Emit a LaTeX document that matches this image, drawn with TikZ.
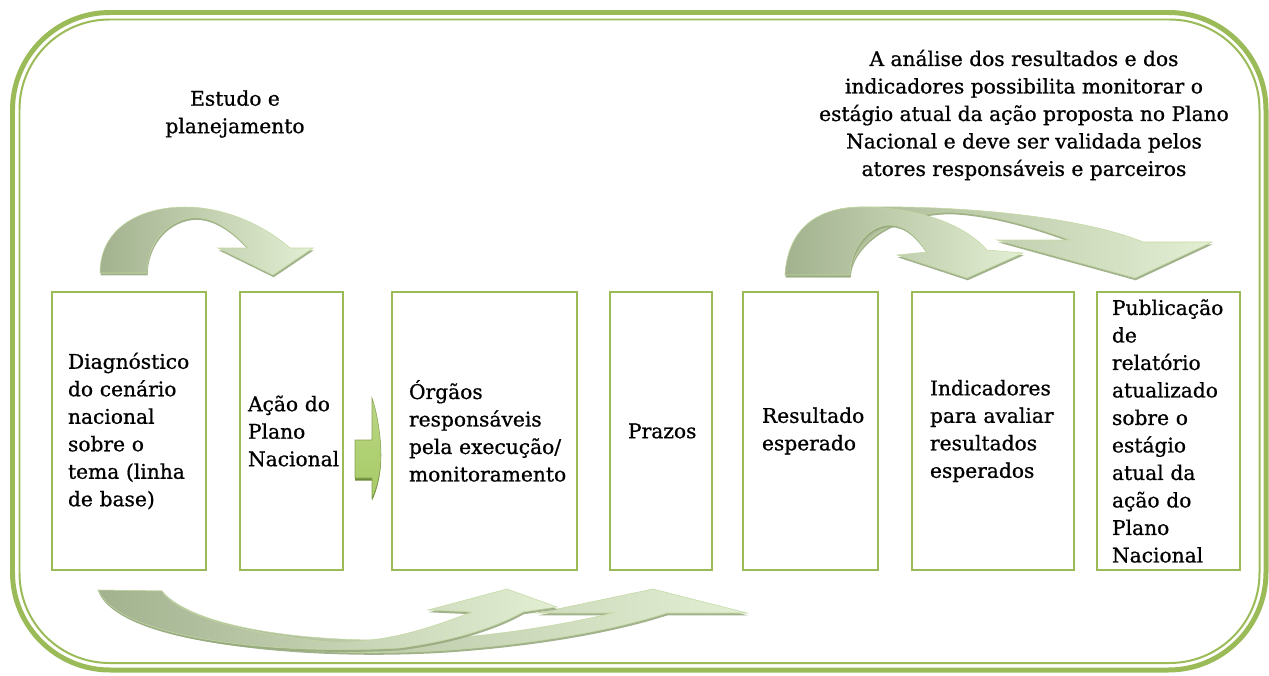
\documentclass[tikz,border=0pt]{standalone}
\usepackage{fontspec}
\setmainfont{DejaVu Serif}[FakeBold=0.8]
\usetikzlibrary{shadows}
\definecolor{verde}{HTML}{9BBB59}
\definecolor{setaescura}{HTML}{A2B18E}
\definecolor{setaclara}{HTML}{E3EFD3}
\definecolor{setaborda}{HTML}{C4D8A2}
\definecolor{sombra}{HTML}{98AA80}
\definecolor{setaverde}{HTML}{A8CB66}
\definecolor{setaverdeesc}{HTML}{6E8C3A}
\tikzset{
  etapa/.style={draw=verde, line width=0.04cm, minimum height=5.56cm, inner ysep=0pt, align=left,
    execute at begin node={\hyphenpenalty=10000\exhyphenpenalty=10000}},
  rotulo/.style={align=center},
  seta/.style={draw=setaborda, line width=0.3pt, left color=setaescura, right color=setaclara,
    drop shadow={shadow xshift=0.4pt, shadow yshift=-1.3pt, fill=sombra, opacity=0.9}},
  setapequena/.style={draw=setaverde!80!black, line width=0.3pt, top color=setaverde!80!white, bottom color=setaverde,
    drop shadow={shadow xshift=0pt, shadow yshift=-1.5pt, fill=setaverdeesc, opacity=1}}
}

\begin{document}
\begin{tikzpicture}[x=0.02cm, y=0.02cm, font=\fontsize{11.5}{15.65}\selectfont]
\useasboundingbox (0,0) rectangle (1269,-676);
\draw[verde, line width=0.1cm, rounded corners=1.95cm] (12.5,-12.5) rectangle (1266,-670);
\draw[verde, line width=0.04cm, rounded corners=1.8cm] (19.5,-19.5) rectangle (1259.5,-663);

\node[etapa, text width=2.44cm, inner xsep=0.32cm] (diagnostico) at (129,-431) {Diagnóstico\\do cenário\\nacional\\sobre o\\tema (linha\\de base)};
\node[etapa, text width=1.74cm, inner xsep=0.16cm] (acao) at (291.5,-431) {Ação do\\Plano\\Nacional};
\node[etapa, text width=3.02cm, inner xsep=0.34cm] (orgaos) at (484.5,-431) {Órgãos\\responsáveis\\\mbox{pela execução/}\\monitoramento};
\node[etapa, text width=1.32cm, inner xsep=0.36cm] (prazos) at (661,-431) {Prazos};
\node[etapa, text width=1.94cm, inner xsep=0.38cm] (resultado) at (810.5,-431) {Resultado\\esperado};
\node[etapa, text width=2.52cm, inner xsep=0.36cm] (indicadores) at (993,-431) {Indicadores\\para avaliar\\resultados\\esperados};
\node[etapa, text width=2.26cm, inner xsep=0.3cm] (publicacao) at (1168.5,-431) {Publicação\\de\\relatório\\atualizado\\sobre o\\estágio\\atual da\\ação do\\Plano\\Nacional};

\node[rotulo] (estudo) at (235,-114) {Estudo e\\planejamento};
\node[rotulo] (analise) at (1024,-115) {A análise dos resultados e dos\\indicadores possibilita monitorar o\\estágio atual da ação proposta no Plano\\Nacional e deve ser validada pelos\\atores responsáveis e parceiros};

\path[seta] (100,-273) .. controls (100,-228) and (140,-207) .. (185,-207) .. controls (230,-207) and (270,-230) .. (290,-248) -- (313,-248) -- (273,-275) -- (218,-248) -- (248,-248) .. controls (230,-228) and (210,-215) .. (190,-218) .. controls (165,-222) and (147,-245) .. (147,-273) -- cycle;

\path[seta] (785,-275) .. controls (788,-230) and (815,-208) .. (860,-207) .. controls (980,-205) and (1090,-220) .. (1143,-242) -- (1212,-242) -- (1135,-278) -- (997,-240) -- (1070,-240) .. controls (1030,-225) and (985,-213) .. (950,-212) .. controls (900,-212) and (852,-240) .. (850,-275) -- cycle;
\path[seta] (785,-275) .. controls (788,-230) and (815,-208) .. (860,-207) .. controls (920,-207) and (965,-225) .. (987,-250) -- (1023,-253) -- (967,-278) -- (897,-255) -- (927,-252) .. controls (915,-235) and (905,-225) .. (890,-225) .. controls (870,-225) and (851,-245) .. (850,-275) -- cycle;

\path[seta] (98,-590) .. controls (120,-640) and (300,-660) .. (450,-650) .. controls (560,-642) and (630,-625) .. (667,-613) -- (747,-613) -- (653,-589) -- (538,-613) -- (613,-613) .. controls (540,-630) and (450,-642) .. (380,-640) .. controls (290,-640) and (190,-625) .. (162,-591) -- cycle;
\path[seta] (98,-590) .. controls (120,-640) and (280,-655) .. (400,-648) .. controls (460,-640) and (500,-625) .. (523,-612) -- (557,-607) -- (507,-589) -- (428,-610) -- (472,-612) .. controls (420,-632) and (380,-643) .. (330,-642) .. controls (250,-635) and (175,-615) .. (162,-591) -- cycle;

\path[setapequena] (355,-440) -- (372,-440) -- (372,-398) .. controls (378,-415) and (381,-440) .. (381,-455) .. controls (381,-472) and (377,-488) .. (372,-498) -- (372,-478) -- (355,-478) -- cycle;
\end{tikzpicture}
\end{document}
